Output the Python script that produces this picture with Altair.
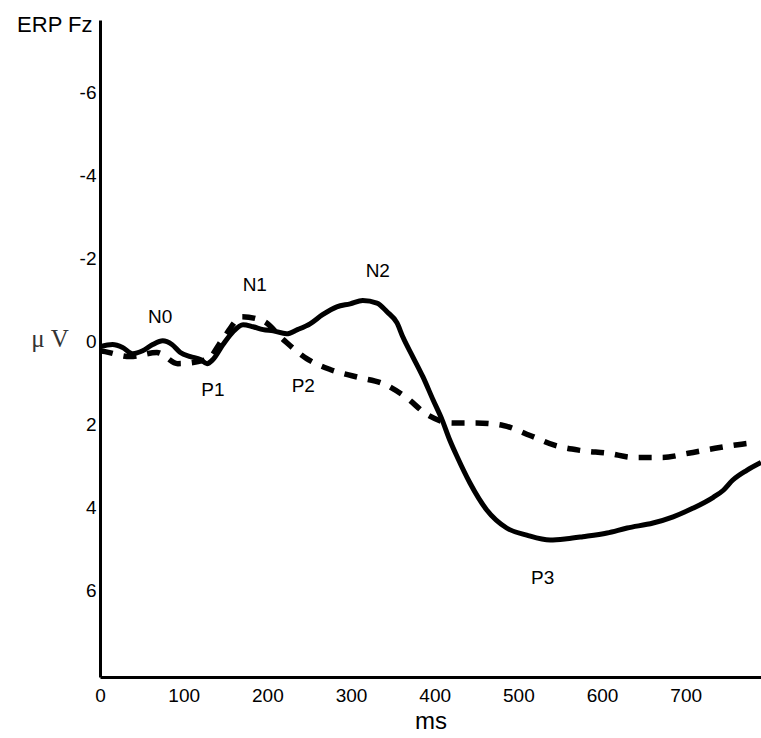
import altair as alt
import pandas as pd

# Solid waveform (ms, microvolts; negative up)
solid_ms = [0, 15, 27, 39, 51, 63, 75, 86, 96, 108, 120, 128, 135, 147, 159, 171, 183, 195,
            207, 223, 236, 251, 266, 283, 299, 314, 331, 343, 355, 362, 374, 386, 398, 409,
            418, 427, 442, 462, 486, 510, 538, 558, 577, 606, 630, 661, 685, 709, 733, 745,
            756, 773, 790]
solid_uv = [0.12, 0.07, 0.14, 0.29, 0.22, 0.07, -0.02, 0.07, 0.26, 0.36, 0.43, 0.53, 0.43,
            0.07, -0.24, -0.41, -0.36, -0.29, -0.26, -0.19, -0.29, -0.43, -0.65, -0.84, -0.91,
            -0.99, -0.93, -0.72, -0.45, -0.11, 0.37, 0.85, 1.40, 1.89, 2.37, 2.78, 3.40, 4.05,
            4.49, 4.66, 4.78, 4.75, 4.70, 4.61, 4.49, 4.37, 4.22, 4.01, 3.75, 3.58, 3.34, 3.10,
            2.91]

# Dashed waveform
dashed_ms = [0, 6, 36, 68, 93, 128, 147, 170, 195, 219, 247, 275, 311, 337, 365, 392,
             421, 450, 482, 514, 544, 574, 607, 639, 672, 703, 735, 767, 775]
dashed_uv = [0.22, 0.24, 0.36, 0.26, 0.53, 0.43, -0.07, -0.60, -0.50, -0.05, 0.41, 0.67,
             0.87, 1.00, 1.33, 1.77, 1.96, 1.96, 2.02, 2.26, 2.50, 2.62, 2.69, 2.79,
             2.79, 2.69, 2.57, 2.47, 2.45]

# Component labels
peak_names = ["N0", "N1", "N2", "P1", "P2", "P3"]
peak_ms = [72, 185, 332, 135, 243, 529]
peak_uv = [-0.60, -1.37, -1.70, 1.16, 1.08, 5.70]

x_ticks = [0, 100, 200, 300, 400, 500, 600, 700]
y_ticks = [-6, -4, -2, 0, 2, 4, 6]

solid_df = pd.DataFrame({"ms": solid_ms, "uv": solid_uv})
dashed_df = pd.DataFrame({"ms": dashed_ms, "uv": dashed_uv})
peaks_df = pd.DataFrame({"ms": peak_ms, "uv": peak_uv, "name": peak_names})
unit_df = pd.DataFrame({"uv": [0], "unit": ["\u03bc V"]})

FONT = "Liberation Sans"

xs = alt.Scale(domain=[0, 790], nice=False, zero=False)
ys = alt.Scale(domain=[-7.75, 8.08], reverse=True, nice=False, zero=False)

x_enc = alt.X("ms:Q", scale=xs, axis=alt.Axis(
    values=x_ticks, title="ms", grid=False, ticks=False, domainWidth=3,
    domainColor="black", labelFontSize=19, labelFont=FONT, labelColor="black",
    labelPadding=9, labelFlush=False, titleFont=FONT, titleFontSize=24,
    titleFontWeight="normal", titleColor="black", titlePadding=4))
y_enc = alt.Y("uv:Q", scale=ys, axis=alt.Axis(
    values=y_ticks, labelExpr="'' + datum.value", title="ERP Fz", titleAngle=0,
    titleX=-8, titleY=4, titleAlign="right", titleBaseline="middle",
    titleFont=FONT, titleFontSize=22, titleFontWeight="normal", titleColor="black",
    grid=False, ticks=False, domainWidth=3, domainColor="black", labelFontSize=19,
    labelFont=FONT, labelColor="black", labelPadding=4))

solid = alt.Chart(solid_df).mark_line(
    color="black", strokeWidth=5, interpolate="monotone"
).encode(x=x_enc, y=y_enc)

dashed = alt.Chart(dashed_df).mark_line(
    color="black", strokeWidth=5.5, strokeDash=[13, 11], strokeCap="butt",
    interpolate="monotone"
).encode(x=x_enc, y=y_enc)

peaks = alt.Chart(peaks_df).mark_text(
    font=FONT, fontSize=19, color="black", align="center", baseline="middle"
).encode(x=x_enc, y=y_enc, text="name:N")

unit = alt.Chart(unit_df).mark_text(
    font="Liberation Serif", fontSize=25, color="#333333", align="center",
    baseline="middle", dy=-3
).encode(x=alt.value(-50), y=y_enc, text="unit:N")

chart = alt.layer(solid, dashed, peaks, unit).properties(
    width=661, height=657, autosize="none",
    padding={"left": 100, "top": 20, "right": 0, "bottom": 61},
    background="white"
).configure_view(stroke=None)

chart.save("out.html", embed_options={"renderer": "svg", "actions": False})
